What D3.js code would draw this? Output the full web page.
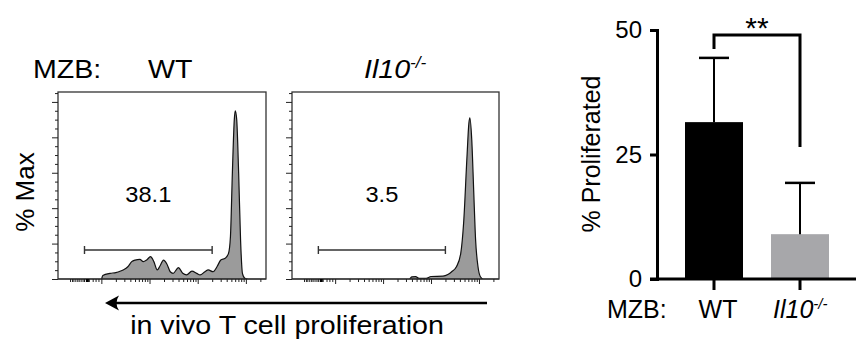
<!DOCTYPE html>
<html>
<head>
<meta charset="utf-8">
<script src="https://cdn.jsdelivr.net/npm/d3@7"></script>
<style>
  body { margin: 0; background: #fff; }
  svg { display: block; font-family: 'Liberation Sans', Arial, sans-serif; }
</style>
</head>
<body>
<div id="chart"></div>
<script>
// flow histograms: [position in log decades, % of max]
const wtHist = [[1.1, 0], [2.0, 0], [2.03, 2.0], [2.18, 3.2], [2.3, 3.6], [2.4, 4.5], [2.45, 5.1],
  [2.55, 6.9], [2.63, 9.8], [2.7, 10.7], [2.8, 11.1], [2.87, 9.8], [2.94, 10.7], [3.02, 12.6],
  [3.09, 9.8], [3.16, 5.1], [3.22, 7.5], [3.29, 10.7], [3.36, 8.5], [3.43, 4.1], [3.49, 3.2],
  [3.6, 6.4], [3.69, 3.2], [3.77, 2.3], [3.88, 4.5], [3.98, 3.2], [4.05, 2.3], [4.15, 4.1],
  [4.22, 5.1], [4.32, 4.1], [4.4, 6.9], [4.48, 10.7], [4.57, 11.7], [4.64, 14.5], [4.68, 24],
  [4.72, 60], [4.76, 90], [4.78, 95], [4.81, 90], [4.85, 60], [4.89, 22], [4.93, 3], [4.98, 0.4],
  [5.05, 0], [5.418, 0]];
const il10Hist = [[1.1, 0], [3.55, 0], [3.6, 1.2], [3.68, 1.3], [3.75, 0.3], [3.9, 0.4], [4.0, 1.4],
  [4.25, 1.6], [4.35, 2.5], [4.43, 4.1], [4.53, 6.9], [4.62, 14.5], [4.68, 31.6], [4.75, 69],
  [4.79, 88], [4.81, 91], [4.85, 78.5], [4.89, 50], [4.93, 22], [4.98, 6.9], [5.03, 1.3],
  [5.09, 0], [5.418, 0]];
const histNames = ['WT', 'Il10'];
const gateLabels = ['38.1', '3.5'];
const gateRange = [1.65, 4.3];
const gateLevel = 16.4;

const histDecades = [2, 3, 4, 5];
const histLinearTicks = [1.35, 1.39, 1.42, 1.46, 1.5, 1.53, 1.57, 1.61, 1.64, 1.74, 1.82, 1.88, 1.94];
const histZeroTick = 1.71;
const histYTicks = [0, 20, 40, 60, 80, 100];

// bar chart
const barGroups = ['WT', 'Il10'];
const barMeans = [31.5, 9.0];
const barErrors = [12.9, 10.3];
const barColors = ['#000000', '#a7a7aa'];
const barTicks = [0, 25, 50];
const sigLegs = [46.2, 26.5];
const sigTop = 49;
const sigText = '**';

const W = 856, H = 345;
const svg = d3.select('#chart').append('svg')
    .attr('width', W)
    .attr('height', H);

// the left half of the figure is a bit wider than tall
function wideText(x, y, str, size, anchor) {
  return svg.append('text')
      .attr('transform', 'translate(' + x + ',' + y + ') scale(1.1,1)')
      .attr('text-anchor', anchor || 'start')
      .attr('font-size', size)
      .attr('fill', '#000')
      .text(str);
}

function koLabel(t, size) {
  t.append('tspan').attr('font-style', 'italic').text('Il10');
  t.append('tspan').attr('font-style', 'italic')
      .attr('font-size', size * 0.6)
      .attr('dy', -size * 0.38)
      .text('-/-');
}

const hy = d3.scaleLinear().domain([0, 105.6]).range([279, 92]);
const panels = [
  { data: wtHist, x0: 58, x1: 266 },
  { data: il10Hist, x0: 292, x1: 499 }
];

panels.forEach((p, i) => {
  const x = d3.scaleLinear().domain([1.1, 5.418]).range([p.x0, p.x1]);
  const g = svg.append('g').attr('class', 'hist ' + histNames[i]);

  g.append('path')
      .datum(p.data)
      .attr('d', d3.area()
        .x(d => x(d[0]))
        .y0(hy(0))
        .y1(d => hy(d[1]))
        .curve(d3.curveMonotoneX))
      .attr('fill', '#9b9b9b')
      .attr('stroke', '#111')
      .attr('stroke-width', 1.2);

  g.append('rect')
      .attr('x', p.x0)
      .attr('y', hy(105.6))
      .attr('width', p.x1 - p.x0)
      .attr('height', hy(0) - hy(105.6))
      .attr('fill', 'none')
      .attr('stroke', '#333')
      .attr('stroke-width', 1.3);

  // y ticks, major and minor
  const minorY = d3.range(0, 106, 5).filter(v => histYTicks.indexOf(v) < 0);
  g.append('g')
      .attr('transform', 'translate(' + p.x0 + ',0)')
      .call(d3.axisLeft(hy).tickValues(histYTicks).tickSize(6).tickFormat(''))
      .call(a => a.select('.domain').remove());
  g.append('g')
      .attr('transform', 'translate(' + p.x0 + ',0)')
      .call(d3.axisLeft(hy).tickValues(minorY).tickSize(3).tickFormat(''))
      .call(a => a.select('.domain').remove());

  // x ticks: log decades with minor ticks, plus the linear part near zero
  const minorX = [];
  histDecades.forEach(d => {
    d3.range(2, 10).forEach(k => {
      const v = d + Math.log10(k);
      if (v < 5.418) minorX.push(v);
    });
  });
  g.append('g')
      .attr('transform', 'translate(0,' + hy(0) + ')')
      .call(d3.axisBottom(x).tickValues(histDecades).tickSize(5).tickFormat(''))
      .call(a => a.select('.domain').remove());
  g.append('g')
      .attr('transform', 'translate(0,' + hy(0) + ')')
      .call(d3.axisBottom(x).tickValues(minorX.concat(histLinearTicks)).tickSize(3).tickFormat(''))
      .call(a => a.select('.domain').remove());
  g.append('rect')
      .attr('x', x(histZeroTick) - 1.5)
      .attr('y', hy(0))
      .attr('width', 3)
      .attr('height', 3)
      .attr('fill', '#000');
  g.selectAll('.tick line').attr('stroke', '#222').attr('stroke-width', 1);

  // gate
  const gy = hy(gateLevel);
  g.append('path')
      .attr('d', 'M' + x(gateRange[0]) + ',' + (gy - 4) + 'V' + (gy + 4) +
        'M' + x(gateRange[0]) + ',' + gy + 'H' + x(gateRange[1]) +
        'M' + x(gateRange[1]) + ',' + (gy - 4) + 'V' + (gy + 4))
      .attr('fill', 'none')
      .attr('stroke', '#333')
      .attr('stroke-width', 1.4);

  wideText(x((gateRange[0] + gateRange[1]) / 2), 202, gateLabels[i], 21.5, 'middle');
});

// panel titles
wideText(33, 78, 'MZB:', 26);
wideText(148, 78, 'WT', 26);
koLabel(wideText(364, 78, '', 26), 26);

svg.append('text')
    .attr('transform', 'translate(34,192) rotate(-90)')
    .attr('text-anchor', 'middle')
    .attr('font-size', 26)
    .text('% Max');

// arrow under the histograms
svg.append('line')
    .attr('x1', 114).attr('x2', 487)
    .attr('y1', 303).attr('y2', 303)
    .attr('stroke', '#000')
    .attr('stroke-width', 2.5);
svg.append('path')
    .attr('d', 'M105,303L119,295.5Q114,303 119,310.5Z')
    .attr('fill', '#000');
wideText(287, 334, 'in vivo T cell proliferation', 26, 'middle');

// bar chart
const yb = d3.scaleLinear().domain([0, 50]).range([279, 30]);
const xb = d3.scalePoint().domain(barGroups).range([714, 800]);
const bw = 58;

svg.selectAll('rect.bar')
    .data(barGroups)
  .enter().append('rect')
    .attr('class', 'bar')
    .attr('x', d => xb(d) - bw / 2)
    .attr('width', bw)
    .attr('y', (d, i) => yb(barMeans[i]))
    .attr('height', (d, i) => yb(0) - yb(barMeans[i]))
    .attr('fill', (d, i) => barColors[i]);

svg.selectAll('line.err')
    .data(barGroups)
  .enter().append('line')
    .attr('class', 'err')
    .attr('x1', d => xb(d)).attr('x2', d => xb(d))
    .attr('y1', (d, i) => yb(barMeans[i]))
    .attr('y2', (d, i) => yb(barMeans[i] + barErrors[i]))
    .attr('stroke', '#000')
    .attr('stroke-width', 2);
svg.selectAll('line.cap')
    .data(barGroups)
  .enter().append('line')
    .attr('class', 'cap')
    .attr('x1', d => xb(d) - 15).attr('x2', d => xb(d) + 15)
    .attr('y1', (d, i) => yb(barMeans[i] + barErrors[i]))
    .attr('y2', (d, i) => yb(barMeans[i] + barErrors[i]))
    .attr('stroke', '#000')
    .attr('stroke-width', 2.5);

const yAxis = svg.append('g')
    .attr('transform', 'translate(657,0)')
    .call(d3.axisLeft(yb).tickValues(barTicks).tickSize(7).tickPadding(8).tickSizeOuter(0));
yAxis.select('.domain').attr('stroke-width', 3).attr('stroke-linecap', 'square');
yAxis.selectAll('.tick line').attr('stroke-width', 3);
yAxis.selectAll('.tick text')
    .attr('font-family', "'Liberation Sans', Arial, sans-serif")
    .attr('font-size', 24)
    .attr('fill', '#000');

svg.append('line')
    .attr('x1', 650).attr('x2', 856)
    .attr('y1', yb(0)).attr('y2', yb(0))
    .attr('stroke', '#000')
    .attr('stroke-width', 3);
svg.selectAll('line.xtick')
    .data(barGroups)
  .enter().append('line')
    .attr('class', 'xtick')
    .attr('x1', d => xb(d)).attr('x2', d => xb(d))
    .attr('y1', yb(0)).attr('y2', yb(0) + 11)
    .attr('stroke', '#000')
    .attr('stroke-width', 3);

svg.append('text')
    .attr('transform', 'translate(600,154) rotate(-90)')
    .attr('text-anchor', 'middle')
    .attr('font-size', 25)
    .text('% Proliferated');

svg.append('text').attr('x', 607).attr('y', 318).attr('font-size', 25).text('MZB:');
svg.append('text').attr('x', xb('WT') + 4).attr('y', 318).attr('font-size', 25)
    .attr('text-anchor', 'middle').text('WT');
koLabel(svg.append('text').attr('x', 773).attr('y', 318).attr('font-size', 25), 25);

// significance bracket
svg.append('path')
    .attr('d', 'M' + xb('WT') + ',' + yb(sigLegs[0]) + 'V' + yb(sigTop) +
      'H' + xb('Il10') + 'V' + yb(sigLegs[1]))
    .attr('fill', 'none')
    .attr('stroke', '#000')
    .attr('stroke-width', 3);
svg.append('text')
    .attr('x', (xb('WT') + xb('Il10')) / 2)
    .attr('y', 38)
    .attr('text-anchor', 'middle')
    .attr('font-size', 30)
    .text(sigText);
</script>
</body>
</html>
